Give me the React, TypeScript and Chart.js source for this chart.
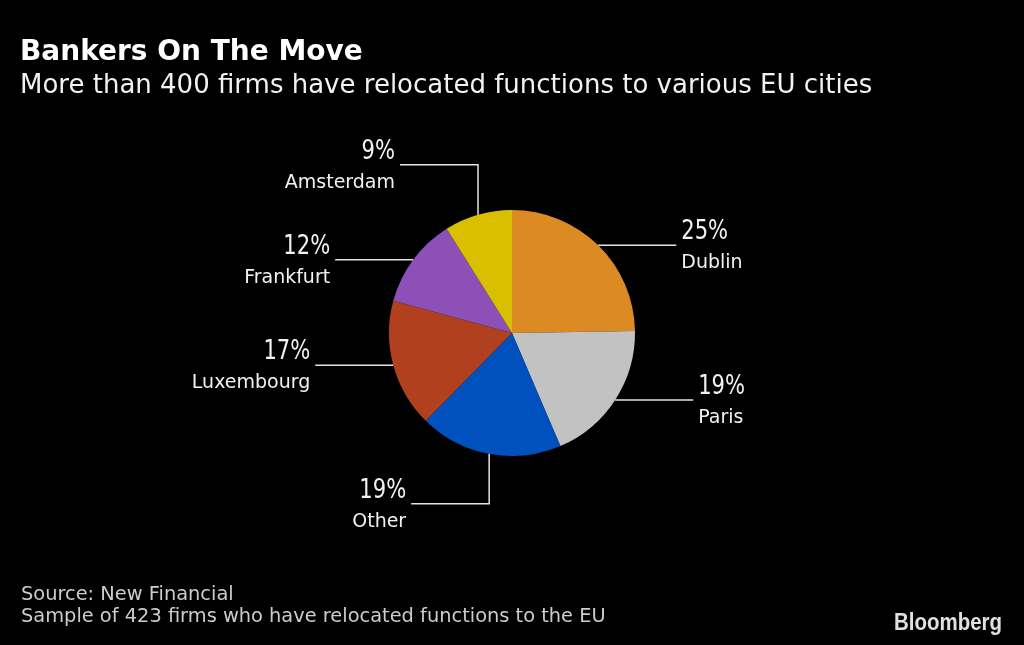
import React, { useEffect, useRef } from "react";
import { Chart, registerables } from "chart.js";

Chart.register(...registerables);

const categories = ["Dublin", "Paris", "Other", "Luxembourg", "Frankfurt", "Amsterdam"];
const shares = [25, 19, 19, 17, 12, 9];
const sliceColors = ["#DB8A24", "#C2C2C2", "#0051BE", "#B0401E", "#8D50B6", "#D9BF00"];
const titleText = "Bankers On The Move";
const subtitleText = "More than 400 firms have relocated functions to various EU cities";
const footerLines = ["Source: New Financial", "Sample of 423 firms who have relocated functions to the EU"];
const brandText = "Bloomberg";

const annotPlugin = {
  id: "annot",
  afterDraw(chart: any) {
    const ctx: CanvasRenderingContext2D = chart.ctx;
    const meta = chart.getDatasetMeta(0);
    ctx.save();
    ctx.textBaseline = "alphabetic";
    ctx.textAlign = "left";
    // header
    ctx.fillStyle = "#ffffff";
    ctx.font = "bold 28px 'DejaVu Sans'";
    ctx.fillText(titleText, 20, 60);
    ctx.fillStyle = "#f2f2f2";
    ctx.font = "26px 'DejaVu Sans'";
    ctx.fillText(subtitleText, 20, 93);
    // footer
    ctx.fillStyle = "#cccccc";
    ctx.font = "19.4px 'DejaVu Sans'";
    ctx.fillText(footerLines[0], 21, 599.5);
    ctx.fillText(footerLines[1], 21, 622);
    // brand
    ctx.font = "bold 24px 'Liberation Sans'";
    const bw = ctx.measureText(brandText).width;
    ctx.save();
    ctx.translate(894, 630);
    ctx.scale(108 / bw, 1);
    ctx.fillStyle = "#e0e0e0";
    ctx.fillText(brandText, 0, 0);
    ctx.restore();
    // slice labels
    meta.data.forEach((arc: any, i: number) => {
      const p = arc.getProps(["x", "y", "startAngle", "endAngle", "outerRadius"], true);
      const a = (p.startAngle + p.endAngle) / 2;
      const cx = Math.cos(a);
      const sy = Math.sin(a);
      let x = p.x + p.outerRadius * cx;
      let y = p.y + p.outerRadius * sy;
      ctx.beginPath();
      ctx.moveTo(x, y);
      if (Math.abs(cx) < 0.45) {
        y += Math.sign(sy) * 50;
        ctx.lineTo(x, y);
      }
      const dir = cx >= 0 ? 1 : -1;
      x += dir * 78;
      ctx.lineTo(x, y);
      ctx.strokeStyle = "#e4e4e4";
      ctx.lineWidth = 1.5;
      ctx.stroke();
      const tx = x + dir * 5;
      ctx.fillStyle = "#f2f2f2";
      ctx.textAlign = dir > 0 ? "left" : "right";
      ctx.save();
      ctx.translate(tx, y - 6);
      ctx.scale(0.78, 1);
      ctx.font = "27px 'DejaVu Sans'";
      ctx.fillText(`${shares[i]}%`, 0, 0);
      ctx.restore();
      ctx.font = "19px 'DejaVu Sans'";
      ctx.fillText(categories[i], tx, y + 23);
    });
    ctx.restore();
  },
};

export default function App() {
  const ref = useRef<HTMLCanvasElement>(null);
  useEffect(() => {
    if (!ref.current) return;
    const chart = new Chart(ref.current, {
      type: "pie",
      data: {
        labels: categories,
        datasets: [
          {
            data: shares,
            backgroundColor: sliceColors,
            borderWidth: 0,
          },
        ],
      },
      options: {
        responsive: false,
        animation: false,
        devicePixelRatio: 1,
        layout: { padding: { top: 210, bottom: 189, left: 389, right: 389 } },
        plugins: {
          legend: { display: false },
          tooltip: { enabled: false },
        },
      },
      plugins: [annotPlugin],
    });
    return () => chart.destroy();
  }, []);
  return (
    <div style={{ position: "absolute", left: 0, top: 0, width: 1024, height: 645, background: "#000" }}>
      <canvas ref={ref} width={1024} height={645} style={{ display: "block" }} />
    </div>
  );
}
